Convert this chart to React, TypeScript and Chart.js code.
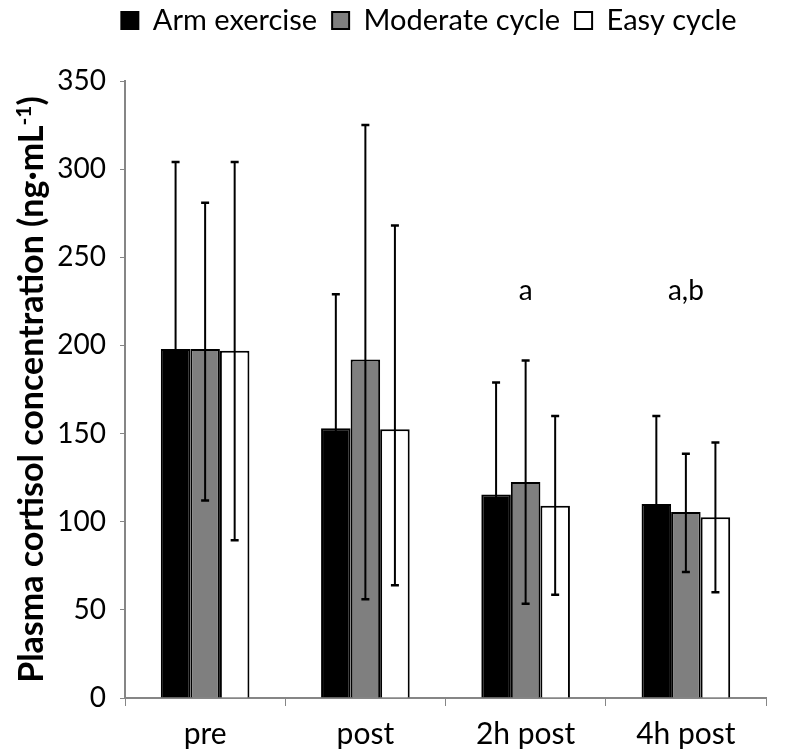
import React, { useEffect, useRef } from "react";
import { Chart, registerables } from "chart.js";

Chart.register(...registerables);

const categories = ["pre", "post", "2h post", "4h post"];
const seriesNames = ["Arm exercise", "Moderate cycle", "Easy cycle"];

const armMean = [198, 153, 115.5, 110];
const armUpper = [304, 229, 179, 160];
const armLower = [92, 77, 52, 60];

const moderateMean = [198, 192, 122.5, 105.5];
const moderateUpper = [281, 325, 191.5, 138.5];
const moderateLower = [112, 56, 53.5, 71.5];

const easyMean = [197, 152.5, 109, 102.5];
const easyUpper = [304, 268, 160, 145];
const easyLower = [89.5, 64, 58.5, 60];

const seriesFill = ["#000000", "#7f7f7f", "#ffffff"];

const sigLabels = ["", "", "a", "a,b"];
const sigLabelValue = 226;

const yMin = 0;
const yMax = 350;
const yStep = 50;

const yTitleMain = "Plasma cortisol concentration (ng·mL";
const yTitleSup = "-1";
const yTitleEnd = ")";

const FONT = "Lato, 'Open Sans', sans-serif";
const AXIS_GREY = "#868686";

const LEGEND_CENTER_X = 429;
const LEGEND_SHIFT_Y = -36;

const errorBarPlugin = {
  id: "errorBars",
  afterDatasetsDraw(chart: any) {
    const { ctx } = chart;
    const y = chart.scales.y;
    chart.data.datasets.forEach((ds: any, i: number) => {
      const meta = chart.getDatasetMeta(i);
      meta.data.forEach((bar: any, j: number) => {
        const x = bar.x;
        const top = y.getPixelForValue(ds.errUpper[j]);
        const bot = y.getPixelForValue(ds.errLower[j]);
        ctx.save();
        ctx.strokeStyle = "#000";
        ctx.lineWidth = 2;
        ctx.beginPath();
        ctx.moveTo(x, bot);
        ctx.lineTo(x, top);
        ctx.stroke();
        ctx.lineWidth = 2.5;
        ctx.beginPath();
        ctx.moveTo(x - 4, top);
        ctx.lineTo(x + 4, top);
        ctx.moveTo(x - 4, bot);
        ctx.lineTo(x + 4, bot);
        ctx.stroke();
        ctx.restore();
      });
    });
  },
};

const sigLabelPlugin = {
  id: "sigLabels",
  afterDraw(chart: any) {
    const { ctx } = chart;
    const xs = chart.scales.x;
    const ys = chart.scales.y;
    ctx.save();
    ctx.fillStyle = "#000";
    ctx.font = `28px ${FONT}`;
    ctx.textAlign = "center";
    ctx.textBaseline = "alphabetic";
    sigLabels.forEach((lab, i) => {
      if (!lab) return;
      ctx.fillText(lab, xs.getPixelForValue(i), ys.getPixelForValue(sigLabelValue));
    });
    ctx.restore();
  },
};

const yTitlePlugin = {
  id: "yTitle",
  afterDraw(chart: any) {
    const { ctx, chartArea } = chart;
    const mainFont = `bold 34px ${FONT}`;
    const supFont = `bold 21px ${FONT}`;
    ctx.save();
    ctx.font = mainFont;
    const w1 = ctx.measureText(yTitleMain).width;
    const w3 = ctx.measureText(yTitleEnd).width;
    ctx.font = supFont;
    const w2 = ctx.measureText(yTitleSup).width;
    const total = w1 + w2 + w3;
    const cy = (chartArea.top + chartArea.bottom) / 2;
    ctx.translate(43, cy);
    ctx.rotate(-Math.PI / 2);
    ctx.fillStyle = "#000";
    ctx.textBaseline = "alphabetic";
    ctx.textAlign = "left";
    let x = -total / 2;
    ctx.font = mainFont;
    ctx.fillText(yTitleMain, x, 0);
    x += w1;
    ctx.font = supFont;
    ctx.fillText(yTitleSup, x, -12);
    x += w2;
    ctx.font = mainFont;
    ctx.fillText(yTitleEnd, x, 0);
    ctx.restore();
  },
};

const legendPlacePlugin = {
  id: "legendPlace",
  afterLayout(chart: any) {
    const lg = chart.legend;
    if (!lg) return;
    const dx = LEGEND_CENTER_X - (lg.left + lg.right) / 2;
    lg.left += dx;
    lg.right += dx;
    lg.top += LEGEND_SHIFT_Y;
    lg.bottom += LEGEND_SHIFT_Y;
  },
};

export default function App() {
  const canvasRef = useRef<HTMLCanvasElement | null>(null);

  useEffect(() => {
    let chart: Chart | null = null;
    let cancelled = false;
    const build = () => {
      if (cancelled || !canvasRef.current) return;
      const means = [armMean, moderateMean, easyMean];
      const uppers = [armUpper, moderateUpper, easyUpper];
      const lowers = [armLower, moderateLower, easyLower];
      chart = new Chart(canvasRef.current, {
        type: "bar",
        data: {
          labels: categories,
          datasets: seriesNames.map((name, i) => ({
            label: name,
            data: means[i],
            errUpper: uppers[i],
            errLower: lowers[i],
            backgroundColor: seriesFill[i],
            borderColor: "#000",
            borderWidth: 2,
            categoryPercentage: 0.553,
            barPercentage: 1,
          })) as any,
        },
        options: {
          responsive: false,
          animation: false,
          layout: { padding: { left: 55, right: 20, top: 27, bottom: 0 } },
          plugins: {
            legend: {
              position: "top",
              align: "center",
              labels: {
                font: { family: FONT, size: 29 },
                color: "#000",
                boxWidth: 17,
                boxHeight: 17,
                padding: 15,
              },
            },
            tooltip: { enabled: false },
          },
          scales: {
            x: {
              grid: {
                display: true,
                drawOnChartArea: false,
                drawTicks: true,
                tickLength: 8,
                color: AXIS_GREY,
                offset: true,
              },
              border: { color: AXIS_GREY, width: 2 },
              ticks: { font: { family: FONT, size: 30 }, color: "#000", padding: 10 },
              afterFit: (s: any) => {
                s.height = 58;
              },
            },
            y: {
              min: yMin,
              max: yMax,
              ticks: { stepSize: yStep, font: { family: FONT, size: 28 }, color: "#000", padding: 14 },
              grid: { display: true, drawOnChartArea: false, drawTicks: true, tickLength: 5, color: AXIS_GREY },
              border: { color: AXIS_GREY, width: 2 },
              afterFit: (s: any) => {
                s.width = 70;
              },
            },
          },
        },
        plugins: [errorBarPlugin, sigLabelPlugin, yTitlePlugin, legendPlacePlugin],
      });
    };
    const fontsApi = (document as any).fonts;
    if (fontsApi && fontsApi.load) {
      Promise.all([
        fontsApi.load(`30px Lato`),
        fontsApi.load(`bold 34px Lato`),
      ]).then(build, build);
    } else {
      build();
    }
    return () => {
      cancelled = true;
      if (chart) chart.destroy();
    };
  }, []);

  return (
    <div style={{ position: "fixed", left: 0, top: 0, width: 786, height: 756, background: "#fff" }}>
      <canvas ref={canvasRef} width={786} height={756} style={{ display: "block" }} />
    </div>
  );
}
